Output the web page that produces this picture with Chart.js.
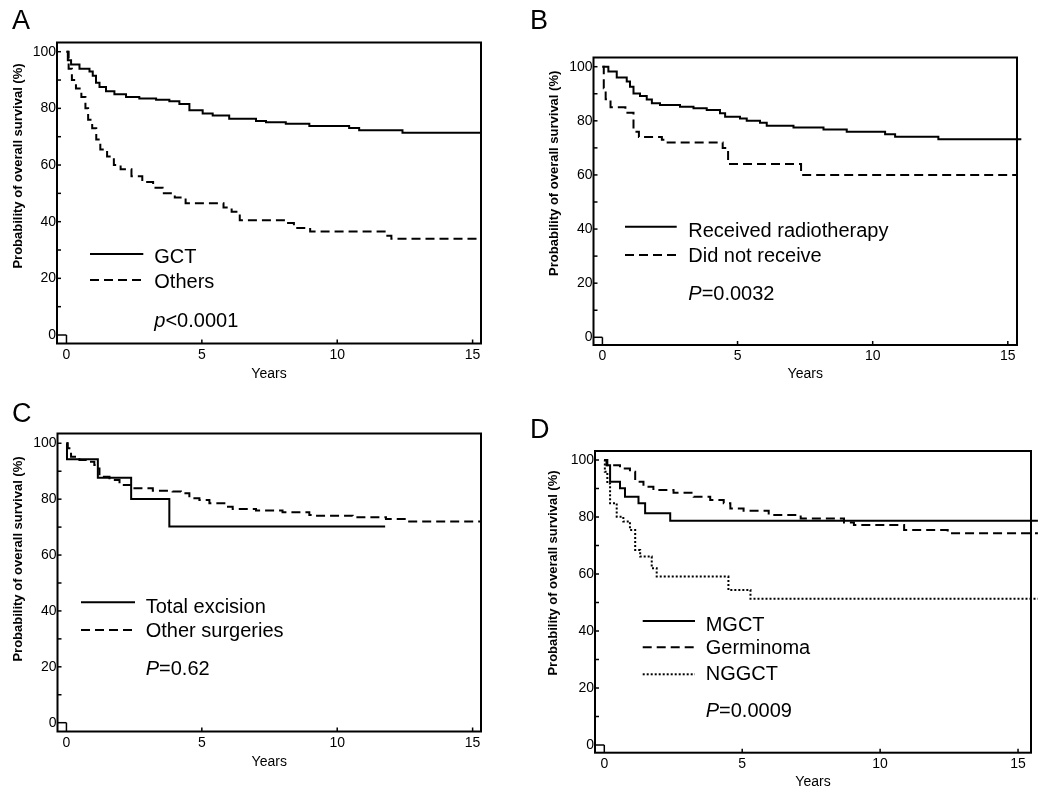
<!DOCTYPE html>
<html><head><meta charset="utf-8">
<script src="https://cdn.jsdelivr.net/npm/chart.js@4/dist/chart.umd.min.js"></script>
<style>
html,body{margin:0;padding:0;background:#fff;}
#wrap{position:relative;width:1050px;height:800px;overflow:hidden;}
canvas{position:absolute;}
</style></head><body>
<div id="wrap">
<canvas id="cA" width="525" height="400" style="left:0px;top:0px"></canvas>
<canvas id="cB" width="525" height="400" style="left:525px;top:0px"></canvas>
<canvas id="cC" width="525" height="400" style="left:0px;top:400px"></canvas>
<canvas id="cD" width="525" height="400" style="left:525px;top:400px"></canvas>
</div>
<script>
// ---------- DATA ----------
const xTickValues = [0, 5, 10, 15];
const yTickValues = [0, 10, 20, 30, 40, 50, 60, 70, 80, 90, 100];
const yLabelValues = [0, 20, 40, 60, 80, 100];
const xTitle = 'Years';
const yTitle = 'Probability of overall survival (%)';

// Panel A
const aGctT = [0, 0.05, 0.17, 0.48, 0.85, 0.97, 1.09, 1.22, 1.46, 1.77, 2.2, 2.69, 3.31, 3.8, 4.17, 4.54, 5.03, 5.4, 6.01, 7.0, 7.37, 8.1, 8.97, 10.44, 10.81, 12.41, 15.31];
const aGctS = [100, 97, 95.5, 94, 93, 91.5, 89, 87.5, 86, 85, 84, 83.5, 83, 82.5, 81.5, 79.3, 78.2, 77.5, 76.3, 75.5, 75.1, 74.6, 73.8, 73.1, 72.3, 71.4, 71.4];
const aOthT = [0, 0.08, 0.2, 0.35, 0.55, 0.7, 0.8, 0.95, 1.1, 1.25, 1.5, 1.75, 2.0, 2.4, 2.8, 3.2, 3.55, 4.0, 4.4, 5.8, 6.1, 6.4, 8.1, 8.4, 9.0, 11.75, 12.0, 15.31];
const aOthS = [100, 94, 90, 87, 84, 80, 76, 73, 69, 65.5, 63, 60, 58.5, 56, 54, 52, 50, 48.5, 46.5, 45, 43.5, 40.5, 39.5, 37.8, 36.5, 35, 34, 34];

// Panel B
const bRecT = [0, 0.22, 0.53, 0.9, 1.02, 1.15, 1.39, 1.64, 1.83, 2.13, 2.87, 3.37, 3.86, 4.35, 4.54, 5.09, 5.34, 5.83, 6.08, 7.07, 8.18, 9.04, 10.46, 10.83, 12.43, 15.5];
const bRecS = [100, 98.2, 96, 94.5, 92.6, 90.1, 89.2, 87.9, 86.5, 85.8, 85.2, 84.6, 84, 82.8, 81.5, 80.9, 80, 79.3, 78.2, 77.5, 76.8, 76, 75, 74.1, 73.2, 73.2];
const bNotT = [0, 0.05, 0.12, 0.3, 0.85, 1.15, 1.35, 2.2, 2.35, 4.45, 4.65, 7.35, 15.34];
const bNotS = [100, 92, 88, 85, 83, 76, 74, 73, 72, 70, 64, 60, 60];

// Panel C
const cTotT = [0, 0.02, 1.16, 2.39, 3.8, 11.77];
const cTotS = [100, 94.3, 87.7, 80.1, 70.2, 70.2];
const cOthT = [0, 0.05, 0.17, 0.48, 0.85, 1.03, 1.09, 1.22, 1.59, 1.96, 2.45, 3.19, 3.92, 4.23, 4.54, 4.91, 5.28, 5.89, 6.14, 7.0, 7.98, 8.97, 9.15, 10.57, 11.8, 12.53, 15.31];
const cOthS = [100, 98.2, 95.2, 94, 93.4, 92.2, 91, 88, 86.9, 85.1, 83.9, 83, 82.7, 82.1, 80.3, 79.7, 78.5, 77.3, 76.5, 75.9, 75.3, 74.3, 74.1, 73.5, 72.9, 72, 72];

// Panel D
const dMgT = [0, 0.11, 0.21, 0.57, 0.75, 1.24, 1.48, 2.39, 15.72];
const dMgS = [100, 98.2, 92.4, 90.1, 87.1, 84.8, 81.3, 78.7, 78.7];
const dGeT = [0, 0.08, 0.57, 0.93, 1.12, 1.42, 1.78, 2.51, 3.24, 3.84, 4.33, 4.57, 5.05, 5.96, 7.12, 8.69, 9.05, 10.87, 12.45, 15.72];
const dGeS = [100, 98.2, 97, 95.9, 92.4, 90.6, 89.5, 88.5, 87.1, 86, 84.8, 83, 82.2, 80.7, 79.5, 78.1, 77.2, 75.4, 74.3, 74.3];
const dNgT = [0, 0.02, 0.11, 0.21, 0.45, 0.69, 0.93, 1.12, 1.3, 1.72, 1.9, 4.5, 5.3, 15.72];
const dNgS = [100, 95.9, 91.8, 84.8, 80.1, 78.4, 75.4, 68.4, 66.1, 62, 59.1, 54.4, 51.3, 51.3];

// ---------- STYLE / LAYOUT ----------
const FONT = '"Liberation Sans", Arial, Helvetica, sans-serif';
const SOLID = [], DASH = [9, 5], DOT = [2, 2];

const panels = [
  { id: 'cA', letter: 'A', letterX: 12, letterY: 29,
    box: {L: 57, T: 42.5, R: 481, B: 343.5}, xMin: -0.35, xMax: 15.31, yMin: -3.0, yMax: 103.25,
    yTitleX: 18, yTitleY: 166, yearsBase: 379.3,
    legX1: 90, legX2: 143.3, legTextX: 154.3,
    series: [
      {label: 'GCT', t: aGctT, s: aGctS, dash: SOLID, ly: 254, tb: 263.3},
      {label: 'Others', t: aOthT, s: aOthS, dash: DASH, ly: 280, tb: 288.3}
    ],
    pLead: 'p', pRest: '<0.0001', pBase: 326.7 },
  { id: 'cB', letter: 'B', letterX: 5, letterY: 29,
    box: {L: 68.5, T: 57.5, R: 492, B: 345}, xMin: -0.33, xMax: 15.34, yMin: -2.85, yMax: 103.4,
    yTitleX: 29, yTitleY: 173.3, yearsBase: 379.3,
    legX1: 100, legX2: 151.7, legTextX: 163.3,
    series: [
      {label: 'Received radiotherapy', t: bRecT, s: bRecS, dash: SOLID, ly: 226.7, tb: 237.3},
      {label: 'Did not receive', t: bNotT, s: bNotS, dash: DASH, ly: 255, tb: 261.5}
    ],
    pLead: 'P', pRest: '=0.0032', pBase: 300 },
  { id: 'cC', letter: 'C', letterX: 12, letterY: 22,
    box: {L: 57.5, T: 33.5, R: 481, B: 331.5}, xMin: -0.33, xMax: 15.31, yMin: -3.15, yMax: 103.5,
    yTitleX: 18, yTitleY: 159, yearsBase: 366.7,
    legX1: 81, legX2: 135, legTextX: 145.7,
    series: [
      {label: 'Total excision', t: cTotT, s: cTotS, dash: SOLID, ly: 202.3, tb: 212.7},
      {label: 'Other surgeries', t: cOthT, s: cOthS, dash: DASH, ly: 230, tb: 236.7}
    ],
    pLead: 'P', pRest: '=0.62', pBase: 275 },
  { id: 'cD', letter: 'D', letterX: 5, letterY: 38,
    box: {L: 70, T: 51, R: 506, B: 352.7}, xMin: -0.337, xMax: 15.47, yMin: -2.7, yMax: 103.16,
    yTitleX: 28.5, yTitleY: 173, yearsBase: 387,
    legX1: 117.7, legX2: 170, legTextX: 180.7,
    series: [
      {label: 'MGCT', t: dMgT, s: dMgS, dash: SOLID, ly: 221, tb: 230.7},
      {label: 'Germinoma', t: dGeT, s: dGeS, dash: DASH, ly: 247.3, tb: 254},
      {label: 'NGGCT', t: dNgT, s: dNgS, dash: DOT, ly: 274.3, tb: 280}
    ],
    pLead: 'P', pRest: '=0.0009', pBase: 316.7 }
];

function makePanel(p) {
  const canvas = document.getElementById(p.id);
  const W = canvas.width, H = canvas.height;
  const xAxisH = 42;
  const titleSize = 14, titleLH = titleSize * 1.2;
  const titleMid = p.yearsBase - 0.3465 * titleSize;
  const titlePadBottom = Math.max(0, (p.box.B + xAxisH) - titleMid - titleLH / 2);

  const overlay = {
    id: 'kmOverlay',
    afterDraw(chart) {
      const ctx = chart.ctx;
      const a = chart.chartArea;
      const sx = chart.scales.x, sy = chart.scales.y;
      ctx.save();
      ctx.strokeStyle = '#000';
      ctx.fillStyle = '#000';
      // box
      ctx.lineWidth = 2;
      ctx.setLineDash([]);
      ctx.strokeRect(a.left, a.top, a.right - a.left, a.bottom - a.top);
      // inward ticks
      ctx.lineWidth = 1.5;
      const x0 = sx.getPixelForValue(0), y0 = sy.getPixelForValue(0);
      yTickValues.forEach(v => {
        const y = sy.getPixelForValue(v);
        const end = v === 0 ? x0 : a.left + 4;
        ctx.beginPath(); ctx.moveTo(a.left, y); ctx.lineTo(end, y); ctx.stroke();
      });
      xTickValues.forEach(v => {
        const x = sx.getPixelForValue(v);
        const end = v === 0 ? y0 : a.bottom - 4;
        ctx.beginPath(); ctx.moveTo(x, a.bottom); ctx.lineTo(x, end); ctx.stroke();
      });
      // panel letter
      ctx.font = '27px ' + FONT;
      ctx.textAlign = 'left'; ctx.textBaseline = 'alphabetic';
      ctx.fillText(p.letter, p.letterX, p.letterY);
      // y title
      ctx.save();
      ctx.translate(p.yTitleX, p.yTitleY);
      ctx.rotate(-Math.PI / 2);
      ctx.font = 'bold 13px ' + FONT;
      ctx.textAlign = 'center'; ctx.textBaseline = 'middle';
      ctx.fillText(yTitle, 0, 0);
      ctx.restore();
      // legend
      ctx.lineWidth = 2;
      p.series.forEach(s => {
        ctx.setLineDash(s.dash);
        ctx.beginPath(); ctx.moveTo(p.legX1, s.ly); ctx.lineTo(p.legX2, s.ly); ctx.stroke();
        ctx.setLineDash([]);
        ctx.font = '20px ' + FONT;
        ctx.textAlign = 'left'; ctx.textBaseline = 'alphabetic';
        ctx.fillText(s.label, p.legTextX, s.tb);
      });
      // p value
      ctx.font = 'italic 20px ' + FONT;
      ctx.fillText(p.pLead, p.legTextX, p.pBase);
      const w = ctx.measureText(p.pLead).width;
      ctx.font = '20px ' + FONT;
      ctx.fillText(p.pRest, p.legTextX + w, p.pBase);
      ctx.restore();
    }
  };

  return new Chart(canvas, {
    type: 'line',
    data: {
      datasets: p.series.map(s => ({
        label: s.label,
        data: s.t.map((t, i) => ({x: t, y: s.s[i]})),
        stepped: 'before',
        borderColor: '#000',
        backgroundColor: '#000',
        borderWidth: 2,
        borderDash: s.dash,
        borderCapStyle: 'butt',
        pointRadius: 0,
        fill: false,
        tension: 0,
        clip: false
      }))
    },
    options: {
      responsive: false,
      animation: false,
      devicePixelRatio: 1,
      events: [],
      layout: { padding: { left: 0, top: p.box.T, right: W - p.box.R, bottom: H - p.box.B - xAxisH } },
      plugins: { legend: { display: false }, tooltip: { enabled: false }, title: { display: false } },
      scales: {
        x: {
          type: 'linear', min: p.xMin, max: p.xMax,
          afterBuildTicks: sc => { sc.ticks = xTickValues.map(v => ({value: v})); },
          afterFit: sc => { sc.height = xAxisH; },
          grid: { display: false, drawTicks: false },
          border: { display: false },
          ticks: { padding: 3, color: '#000', autoSkip: false, maxRotation: 0,
                   font: { family: FONT, size: 14 }, callback: v => String(v) },
          title: { display: true, text: xTitle, color: '#000',
                   font: { family: FONT, size: titleSize }, padding: { top: 0, bottom: titlePadBottom } }
        },
        y: {
          type: 'linear', min: p.yMin, max: p.yMax,
          afterBuildTicks: sc => { sc.ticks = yTickValues.map(v => ({value: v})); },
          afterFit: sc => { sc.width = p.box.L; },
          grid: { display: false, drawTicks: false },
          border: { display: false },
          ticks: { padding: 1, color: '#000', autoSkip: false,
                   font: { family: FONT, size: 14 },
                   callback: v => yLabelValues.includes(v) ? String(v) : '' }
        }
      }
    },
    plugins: [overlay]
  });
}

panels.forEach(makePanel);
</script>
</body></html>
